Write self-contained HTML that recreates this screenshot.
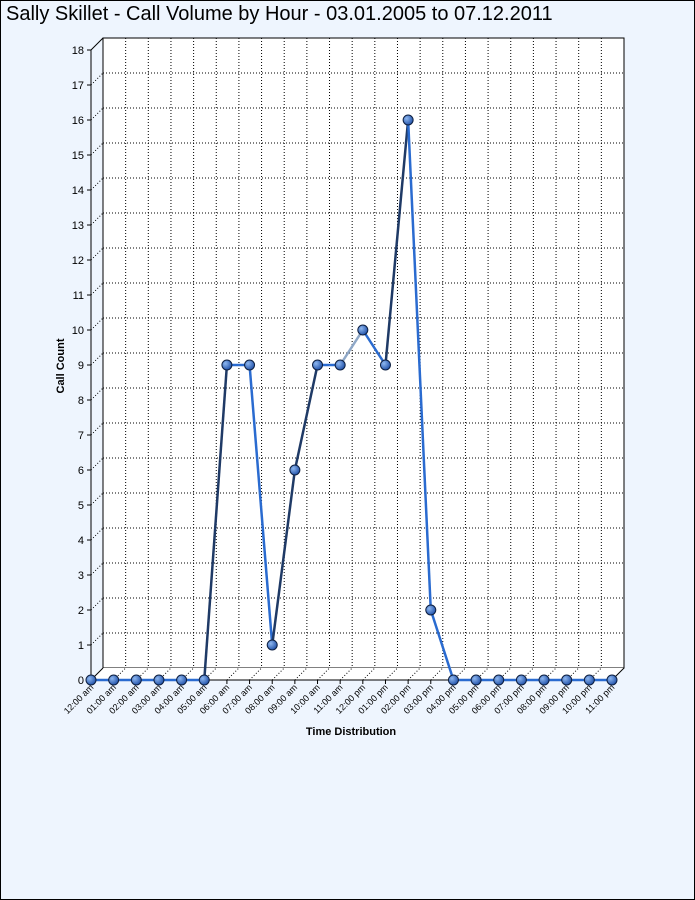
<!DOCTYPE html>
<html><head><meta charset="utf-8"><style>
html,body{margin:0;padding:0;}
body{width:695px;height:900px;overflow:hidden;background:#eef5fe;font-family:"Liberation Sans",sans-serif;}
.frame{position:absolute;left:0;top:0;width:693px;height:898px;border:1px solid #000;}
.title{position:absolute;left:6px;top:3px;font-size:20px;color:#000;}
</style></head><body>
<div class="frame"></div>
<div class="title">Sally Skillet - Call Volume by Hour - 03.01.2005 to 07.12.2011</div>
<svg width="695" height="900" style="position:absolute;left:0;top:0" font-family="Liberation Sans, sans-serif">
<defs><radialGradient id="g" cx="0.35" cy="0.35" r="0.7"><stop offset="0" stop-color="#8fb8f0"/><stop offset="1" stop-color="#1e4fa8"/></radialGradient></defs>
<g id="c"></g>
</svg>
<script>
const s=document.getElementById('c');let h='';
const X=i=>91+i*22.652, Y=v=>680-v*35;
// back wall + floor
h+=`<polygon points="103,38 624,38 624,668 103,668" fill="#fff" stroke="#000"/>`;
h+=`<polygon points="91,680 612,680 624,668 103,668" fill="#fff" stroke="none"/>`;
for(let v=1;v<=17;v++){h+=`<line x1="103" y1="${Y(v)-12}" x2="624" y2="${Y(v)-12}" stroke="#000" stroke-dasharray="1,2"/>`;
h+=`<line x1="91" y1="${Y(v)}" x2="103" y2="${Y(v)-12}" stroke="#000" stroke-dasharray="1,2"/>`;}
for(let i=1;i<23;i++){h+=`<line x1="${X(i)+12}" y1="38" x2="${X(i)+12}" y2="668" stroke="#000" stroke-dasharray="1,2"/>`;
h+=`<line x1="${X(i)}" y1="680" x2="${X(i)+12}" y2="668" stroke="#000" stroke-dasharray="1,2"/>`;}
h+=`<line x1="91" y1="50" x2="103" y2="38" stroke="#000"/><line x1="91" y1="680" x2="103" y2="668" stroke="#000"/><line x1="612" y1="680" x2="624" y2="668" stroke="#000"/>`;
h+=`<line x1="91" y1="50" x2="91" y2="680" stroke="#000"/><line x1="91" y1="680" x2="612" y2="680" stroke="#000"/>`;
for(let v=0;v<=18;v++){h+=`<line x1="87" y1="${Y(v)}" x2="91" y2="${Y(v)}" stroke="#000"/><text x="84" y="${Y(v)+4}" font-size="11" text-anchor="end">${v}</text>`;}
const lab=['12:00 am','01:00 am','02:00 am','03:00 am','04:00 am','05:00 am','06:00 am','07:00 am','08:00 am','09:00 am','10:00 am','11:00 am','12:00 pm','01:00 pm','02:00 pm','03:00 pm','04:00 pm','05:00 pm','06:00 pm','07:00 pm','08:00 pm','09:00 pm','10:00 pm','11:00 pm'];
for(let i=0;i<24;i++){h+=`<line x1="${X(i)}" y1="680" x2="${X(i)}" y2="684" stroke="#000"/><text transform="translate(${X(i)+3},688) rotate(-45)" font-size="9" text-anchor="end">${lab[i]}</text>`;}
h+=`<text transform="translate(64,366) rotate(-90)" font-size="11" font-weight="bold" text-anchor="middle">Call Count</text>`;
h+=`<text x="351" y="735" font-size="11" font-weight="bold" text-anchor="middle">Time Distribution</text>`;
const d=[0,0,0,0,0,0,9,9,1,6,9,9,10,9,16,2,0,0,0,0,0,0,0,0];
for(let i=0;i<23;i++){const up=d[i+1]>d[i];const col=i==11?'#8fa8c8':(up?'#1f3a66':'#2a6bd0');
h+=`<line x1="${X(i)}" y1="${Y(d[i])}" x2="${X(i+1)}" y2="${Y(d[i+1])}" stroke="${col}" stroke-width="2.5"/>`;}
for(let i=0;i<24;i++)h+=`<circle cx="${X(i)}" cy="${Y(d[i])}" r="5" fill="url(#g)" stroke="#0d1f40" stroke-width="1"/>`;
s.innerHTML=h;
</script>
</body></html>
